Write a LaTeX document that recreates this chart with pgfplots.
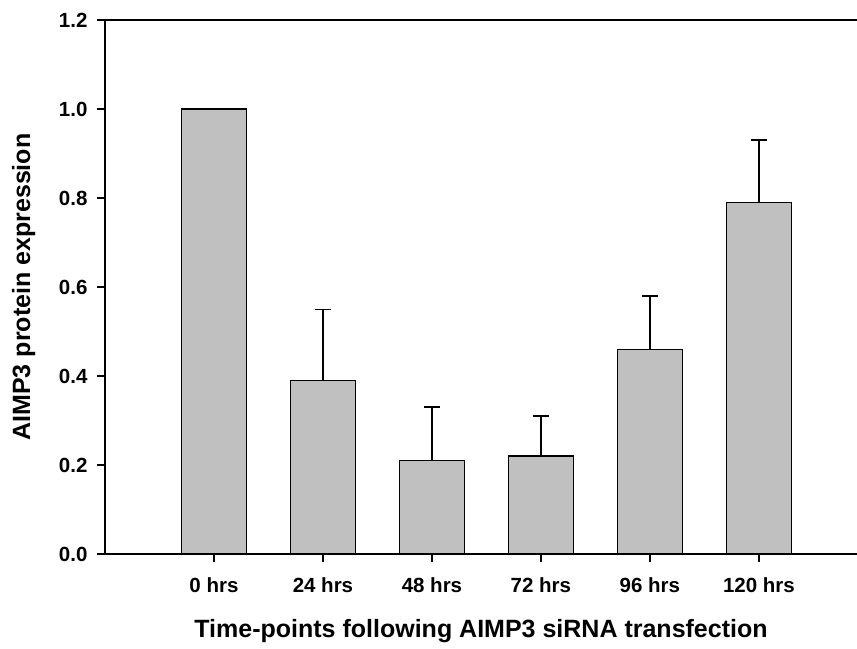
\documentclass[border=0pt]{standalone}
\usepackage{fontspec}
\setmainfont{Liberation Sans}
\usepackage{pgfplots}
\pgfplotsset{compat=1.18}

\definecolor{bargray}{RGB}{192,192,192}

\begin{document}
\begin{tikzpicture}
  \begin{axis}[
      width=752pt, height=534pt, scale only axis,
      ybar, bar width=0.6,
      xmin=-1, xmax=5.9,
      ymin=0, ymax=1.2,
      xtick={0,1,2,3,4,5},
      xticklabels={0 hrs,24 hrs,48 hrs,72 hrs,96 hrs,120 hrs},
      ytick={0,0.2,...,1.2},
      yticklabel style={xshift=-6pt,/pgf/number format/.cd,fixed,fixed zerofill,precision=1},
      /pgf/number format/assume math mode=true,
      axis x line=box, axis y line=left,
      axis line style={line width=1.5pt,-},
      xtick pos=bottom, ytick pos=left,
      tick align=outside, major tick length=8pt,
      tick style={line width=1.5pt,black},
      tick label style={font=\fontsize{20.5}{22}\selectfont\bfseries},
      xticklabel style={yshift=-12pt},
      label style={font=\fontsize{25}{28}\selectfont\bfseries},
      xlabel={Time-points following AIMP3 siRNA transfection},
      ylabel={AIMP3 protein expression},
      xlabel style={at={(axis description cs:0.5,-0.157)},anchor=base},
      ylabel style={at={(axis description cs:-0.108,0.5)},anchor=center},
    ]
    \addplot[fill=bargray, draw=black, line width=1.3pt,
      error bars/.cd, y dir=plus, y explicit,
      error bar style={line width=1.5pt,black},
      error mark options={rotate=90,mark size=8pt,line width=1.5pt,black}]
      table[x=x,y=y,y error=e] {
        x y    e
        0 1.00 0.00
        1 0.39 0.16
        2 0.21 0.12
        3 0.22 0.09
        4 0.46 0.12
        5 0.79 0.14
      };
  \end{axis}
  \pgfresetboundingbox
  \path ([xshift=-105pt,yshift=-94pt]current axis.south west) rectangle ([yshift=20pt]current axis.north east);
\end{tikzpicture}
\end{document}
